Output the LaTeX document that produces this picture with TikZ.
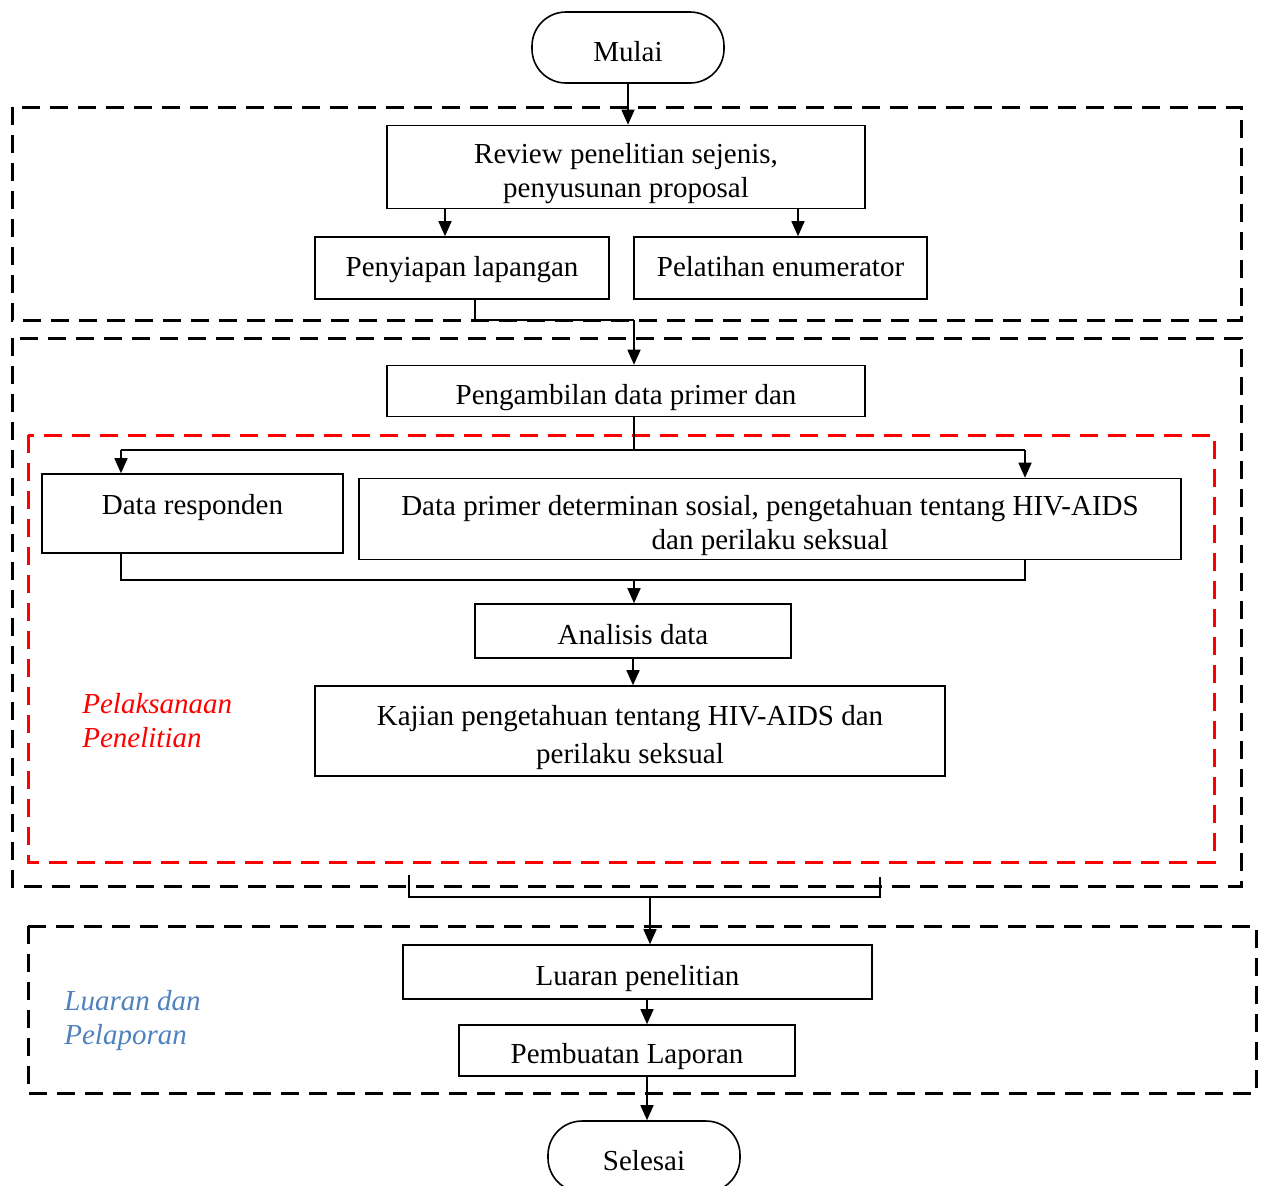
\documentclass[tikz,border=0pt]{standalone}
\usepackage{fontspec}
\setmainfont{Liberation Serif}
\usetikzlibrary{arrows.meta,positioning}
\definecolor{labelblue}{RGB}{79,129,189}

\begin{document}
\begin{tikzpicture}[
		x=0.5pt, y=-0.5pt,
		font=\fontsize{14.5}{17}\selectfont,
		block/.style={draw, thick, align=center, inner sep=2pt, text height=16pt, text depth=3pt},
		twoline/.style={text height=33pt},
		term/.style={draw, thick, rounded corners=17pt, minimum width=96pt, minimum height=35.5pt, text height=14pt, text depth=0pt},
		group/.style={line width=1.5pt, dash pattern=on 9pt off 5pt},
		arr/.style={-{Triangle[length=7.5pt,width=6.5pt]}, thick},
		side/.style={inner sep=0pt, anchor=west, align=left, font=\fontsize{14.5}{17}\selectfont\itshape},
	]
		\useasboundingbox (0,0) rectangle (1262,1185);
		
		\draw[group] (12,107) rectangle (1241,320);
		\draw[group] (12,338) rectangle (1241,886);
		\draw[group, red] (28,435) rectangle (1214,862);
		\draw[group] (28,926) rectangle (1256,1093);
		
		\node[term] (mulai) at (628,47.5) {Mulai};
		\node[block, twoline, minimum width=239pt, minimum height=41.5pt] (review) at (626,167) {Review penelitian sejenis,\\penyusunan proposal};
		\node[block, minimum width=147pt, minimum height=31pt, text height=11pt] (siap) at (462,268) {Penyiapan lapangan};
		\node[block, minimum width=146.5pt, minimum height=31pt, text height=11pt] (latih) at (780.5,268) {Pelatihan enumerator};
		\node[block, minimum width=239pt, minimum height=25.5pt] (ambil) at (626,391) {Pengambilan data primer dan};
		\node[block, minimum width=150.5pt, minimum height=39.5pt, text height=10pt, text depth=9pt] (resp) at (192.5,513.5) {Data responden};
		\node[block, twoline, minimum width=411pt, minimum height=40.5pt] (primer) at (770,519) {Data primer determinan sosial, pengetahuan tentang HIV-AIDS\\dan perilaku seksual};
		\node[block, minimum width=158pt, minimum height=27pt] (analisis) at (633,631) {Analisis data};
		\node[block, twoline, text height=35pt, minimum width=315pt, minimum height=45pt, font=\fontsize{14.5}{19}\selectfont] (kajian) at (630,731) {Kajian pengetahuan tentang HIV-AIDS dan\\perilaku seksual};
		\node[block, minimum width=234.5pt, minimum height=27pt] (luaran) at (637.5,972) {Luaran penelitian};
		\node[block, minimum width=168pt, minimum height=25.5pt] (lapor) at (627,1050.5) {Pembuatan Laporan};
		\node[term] (selesai) at (644,1156.5) {Selesai};
		
		\node[side, text=red] (pelaksanaan) at (82,721) {Pelaksanaan\\Penelitian};
		\node[side, text=labelblue] (pelaporan) at (64,1020) {Luaran dan\\Pelaporan};
		
		\draw[arr] (mulai.south) -- (mulai.south|-review.north);
		
		\coordinate (s1) at ([xshift=-8.5pt]siap.north);
		\coordinate (s2) at ([xshift=8.75pt]latih.north);
		\draw[arr] (s1|-review.south) -- (s1);
		\draw[arr] (s2|-review.south) -- (s2);
		
		\coordinate (s3) at ([xshift=6.5pt]siap.south);
		\coordinate (j1) at (634,320);
		\draw[thick] (s3) |- (j1);
		\draw[arr] (j1) -- (j1|-ambil.north);
		
		\coordinate (j2) at (634,450);
		\coordinate (r1) at ([xshift=-35.75pt]resp.north);
		\coordinate (p1) at ([xshift=127.5pt]primer.north);
		\draw[thick] (ambil.south-|j2) -- (j2);
		\draw[thick] (r1|-j2) -- (p1|-j2);
		\draw[arr] (r1|-j2) -- (r1);
		\draw[arr] (p1|-j2) -- (p1);
		
		\coordinate (j3) at (634,580);
		\draw[thick] (r1|-resp.south) -- (r1|-j3) -- (p1|-j3) -- (p1|-primer.south);
		\draw[arr] (j3) -- (j3|-analisis.north);
		\draw[arr] (analisis.south) -- (analisis.south|-kajian.north);
		
		\coordinate (k1) at (409,875);
		\coordinate (k2) at (880,877);
		\coordinate (j4) at (650,897);
		\draw[thick] (k1) |- (j4) -| (k2);
		\draw[arr] (j4) -- (j4|-luaran.north);
		
		\coordinate (j5) at (647,1000);
		\draw[arr] (luaran.south-|j5) -- (lapor.north-|j5);
		\draw[arr] (lapor.south-|j5) -- (selesai.north-|j5);
	\end{tikzpicture}
\end{document}
